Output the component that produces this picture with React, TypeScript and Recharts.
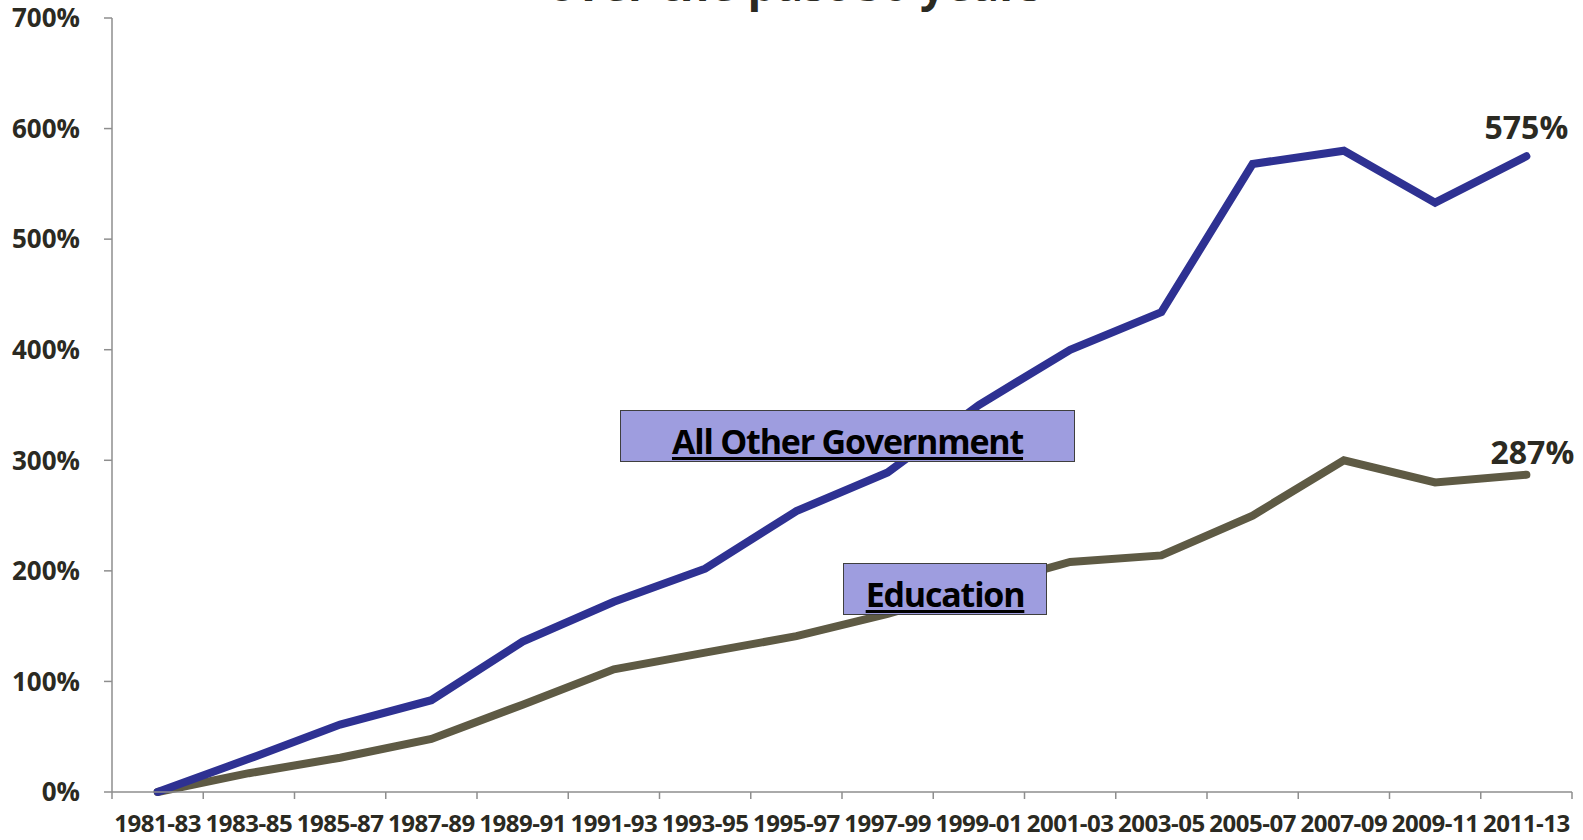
import React from 'react';
import { LineChart, Line, XAxis, YAxis } from 'recharts';

const periods = [
  '1981-83', '1983-85', '1985-87', '1987-89', '1989-91', '1991-93', '1993-95', '1995-97',
  '1997-99', '1999-01', '2001-03', '2003-05', '2005-07', '2007-09', '2009-11', '2011-13',
];
const allOtherGovernment = [0, 30, 61, 83, 136, 172, 202, 254, 289, 350, 400, 434, 568, 580, 533, 575];
const education = [0, 17, 31, 48, 79, 111, 126, 141, 161, 185, 208, 214, 250, 300, 280, 287];
const yTicks = [0, 100, 200, 300, 400, 500, 600, 700];

const data = periods.map((p, i) => ({
  period: p,
  other: allOtherGovernment[i],
  edu: education[i],
}));

const W = 1583;
const H = 840;
const PLOT_LEFT = 112;
const PLOT_RIGHT = 1572;
const HALF_BAND = (PLOT_RIGHT - PLOT_LEFT) / periods.length / 2;
const TEXT = '#2B2A22';
const AXIS = '#8E8E8E';
const FONT = "'Open Sans', sans-serif";

const XTick = (props: any) => {
  const { x, y, payload, index } = props;
  const last = index === periods.length - 1;
  return (
    <g>
      <line x1={x - HALF_BAND} x2={x - HALF_BAND} y1={y} y2={y + 7} stroke={AXIS} strokeWidth={1.5} />
      {last && <line x1={x + HALF_BAND} x2={x + HALF_BAND} y1={y} y2={y + 7} stroke={AXIS} strokeWidth={1.5} />}
      <text x={x} y={y + 40} textAnchor="middle" fontSize={24} fontWeight={700} fontFamily={FONT}
        fill={TEXT} letterSpacing={-0.5}>
        {payload.value}
      </text>
    </g>
  );
};

// only the last point gets its value written above it
const endLabel = (dx: number, dy: number) => (props: any) => {
  const { x, y, index, value } = props;
  if (index !== periods.length - 1) return null;
  return (
    <text x={x + dx} y={y + dy} textAnchor="middle" fontSize={32} fontWeight={700} fontFamily={FONT} fill={TEXT}>
      {value}%
    </text>
  );
};

const boxStyle: React.CSSProperties = {
  position: 'absolute',
  background: '#9E9DDF',
  border: '1.5px solid #3F3F3F',
  boxSizing: 'border-box',
  display: 'flex',
  justifyContent: 'center',
  alignItems: 'flex-end',
  fontFamily: FONT,
  fontWeight: 700,
  fontSize: 34,
  letterSpacing: -1.2,
  color: '#000',
  textDecoration: 'underline',
  textDecorationThickness: 3,
  textUnderlineOffset: 3,
  lineHeight: '40px',
  paddingBottom: 0,
};

export default function App() {
  return (
    <div style={{ position: 'absolute', left: 0, top: 0, width: W, height: H, overflow: 'hidden', background: '#fff' }}>
      <svg width={W} height={20} style={{ position: 'absolute', left: 0, top: 0 }}>
        <text x={795} y={1} textAnchor="middle" fontSize={45} fontWeight={700} fontFamily={FONT} fill={TEXT}>
          over the past 30 years
        </text>
      </svg>
      <LineChart width={W} height={H} data={data} margin={{ top: 18, right: W - PLOT_RIGHT, bottom: 0, left: 0 }}>
        <XAxis
          dataKey="period"
          height={48}
          padding={{ left: HALF_BAND, right: HALF_BAND }}
          tickLine={false}
          tickSize={0}
          tickMargin={0}
          interval={0}
          axisLine={{ stroke: AXIS, strokeWidth: 1.5 }}
          tick={<XTick />}
        />
        <YAxis
          width={PLOT_LEFT}
          domain={[0, 700]}
          ticks={yTicks}
          tickFormatter={(v) => `${v}%`}
          tickSize={8}
          tickMargin={24}
          axisLine={{ stroke: AXIS, strokeWidth: 1.5 }}
          tickLine={{ stroke: AXIS, strokeWidth: 1.5 }}
          tick={{ fontSize: 26, fontWeight: 700, fill: TEXT, fontFamily: FONT }}
        />
        <Line dataKey="edu" stroke="#5E5A44" strokeWidth={8} strokeLinecap="round" dot={false}
          isAnimationActive={false} label={endLabel(6, -11)} />
        <Line dataKey="other" stroke="#2E3192" strokeWidth={8} strokeLinecap="round" dot={false}
          isAnimationActive={false} label={endLabel(0, -17)} />
      </LineChart>
      <div style={{ ...boxStyle, left: 620, top: 410, width: 455, height: 52 }}>All Other Government</div>
      <div style={{ ...boxStyle, left: 843, top: 563, width: 204, height: 52 }}>Education</div>
    </div>
  );
}
